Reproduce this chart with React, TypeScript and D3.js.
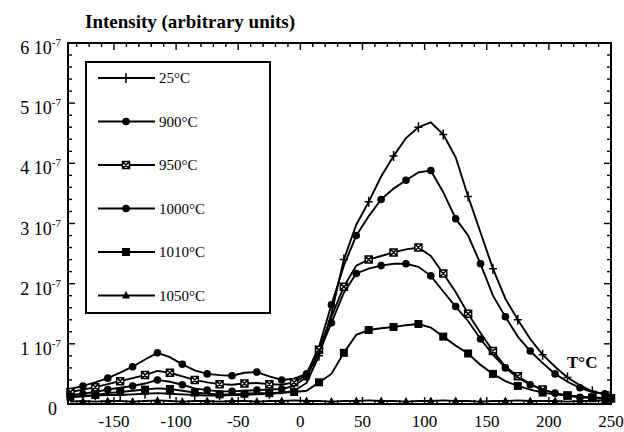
import { useEffect, useRef } from 'react';
import * as d3 from 'd3';

// temperature axis (°C) shared by all series
const temps = [-185, -175, -165, -155, -145, -135, -125, -115, -105, -95, -85, -75, -65, -55, -45, -35, -25, -15, -5,
  5, 15, 25, 35, 45, 55, 65, 75, 85, 95, 105, 115, 125, 135, 145, 155, 165, 175, 185, 195, 205, 215, 225, 235, 245, 250];

// intensities in units of 1e-7
const s25 = [0.12, 0.13, 0.14, 0.15, 0.15, 0.16, 0.17, 0.18, 0.17, 0.16, 0.15, 0.14, 0.14, 0.15, 0.15, 0.16, 0.17, 0.18, 0.22,
  0.35, 0.8, 1.5, 2.4, 2.98, 3.36, 3.78, 4.12, 4.42, 4.6, 4.68, 4.48, 4.1, 3.45, 2.85, 2.25, 1.75, 1.4, 1.08, 0.82, 0.62, 0.44, 0.31, 0.21, 0.16, 0.15];
const s900 = [0.25, 0.3, 0.36, 0.43, 0.52, 0.62, 0.74, 0.85, 0.78, 0.66, 0.56, 0.5, 0.48, 0.47, 0.52, 0.53, 0.46, 0.4, 0.42,
  0.5, 0.95, 1.65, 2.3, 2.8, 3.12, 3.4, 3.58, 3.72, 3.85, 3.88, 3.52, 3.08, 2.8, 2.33, 1.8, 1.45, 1.12, 0.88, 0.68, 0.5, 0.37, 0.27, 0.2, 0.17, 0.16];
const s950 = [0.2, 0.24, 0.28, 0.33, 0.38, 0.43, 0.48, 0.55, 0.52, 0.46, 0.4, 0.36, 0.33, 0.32, 0.34, 0.35, 0.33, 0.32, 0.36,
  0.48, 0.9, 1.45, 1.95, 2.3, 2.4, 2.46, 2.52, 2.57, 2.6, 2.46, 2.17, 1.86, 1.5, 1.18, 0.88, 0.62, 0.46, 0.33, 0.24, 0.18, 0.14, 0.12, 0.1, 0.09, 0.09];
const s1000 = [0.15, 0.17, 0.2, 0.24, 0.27, 0.3, 0.34, 0.4, 0.37, 0.32, 0.26, 0.23, 0.21, 0.21, 0.22, 0.23, 0.24, 0.25, 0.3,
  0.45, 0.85, 1.35, 1.85, 2.17, 2.25, 2.3, 2.33, 2.33, 2.28, 2.13, 1.87, 1.62, 1.38, 1.08, 0.82, 0.6, 0.44, 0.32, 0.24, 0.18, 0.14, 0.11, 0.1, 0.09, 0.09];
const s1010 = [0.12, 0.13, 0.15, 0.18, 0.2, 0.22, 0.24, 0.26, 0.25, 0.22, 0.19, 0.17, 0.16, 0.16, 0.17, 0.18, 0.18, 0.19, 0.2,
  0.22, 0.36, 0.5, 0.85, 1.15, 1.23, 1.26, 1.28, 1.31, 1.33, 1.27, 1.12, 0.97, 0.84, 0.65, 0.5, 0.38, 0.3, 0.24, 0.19, 0.16, 0.14, 0.12, 0.11, 0.1, 0.1];
const s1050 = [0.04, 0.05, 0.04, 0.05, 0.05, 0.04, 0.05, 0.06, 0.05, 0.04, 0.05, 0.05, 0.04, 0.05, 0.05, 0.04, 0.05, 0.05, 0.06,
  0.05, 0.05, 0.04, 0.05, 0.05, 0.06, 0.05, 0.05, 0.04, 0.05, 0.05, 0.06, 0.05, 0.05, 0.04, 0.05, 0.05, 0.06, 0.05, 0.05, 0.05, 0.04, 0.05, 0.05, 0.06, 0.05];

const seriesLabels = ['25°C', '900°C', '950°C', '1000°C', '1010°C', '1050°C'];
const seriesValues = [s25, s900, s950, s1000, s1010, s1050];
const xTicks = [-150, -100, -50, 0, 50, 100, 150, 200, 250];
const yTicks = [0, 1, 2, 3, 4, 5, 6];

const markerKinds = ['plus', 'circle', 'bowtie', 'circle', 'square', 'triangle'];
const FONT = 'Liberation Serif, DejaVu Serif, serif';

function drawMarker(g: any, kind: string, cx: number, cy: number) {
  if (kind === 'circle') {
    g.append('circle').attr('cx', cx).attr('cy', cy).attr('r', 3.8).attr('fill', '#000');
  } else if (kind === 'square') {
    g.append('rect').attr('x', cx - 4).attr('y', cy - 4).attr('width', 8).attr('height', 8).attr('fill', '#000');
  } else if (kind === 'triangle') {
    g.append('path').attr('d', `M${cx},${cy - 4.5}L${cx + 4},${cy + 3}L${cx - 4},${cy + 3}Z`).attr('fill', '#000');
  } else if (kind === 'plus') {
    g.append('path').attr('d', `M${cx},${cy - 5}V${cy + 5}M${cx - 4},${cy}H${cx + 4}`)
      .attr('stroke', '#000').attr('stroke-width', 1.5).attr('fill', 'none');
  } else if (kind === 'bowtie') {
    g.append('path')
      .attr('d', `M${cx - 3.5},${cy - 3.5}H${cx + 3.5}V${cy + 3.5}H${cx - 3.5}ZM${cx - 3.5},${cy - 3.5}L${cx + 3.5},${cy + 3.5}M${cx + 3.5},${cy - 3.5}L${cx - 3.5},${cy + 3.5}`)
      .attr('stroke', '#000').attr('stroke-width', 1.5).attr('fill', '#fff');
  }
}

const App = () => {
  const ref = useRef<SVGSVGElement>(null);

  useEffect(() => {
    const svg = d3.select(ref.current);
    svg.selectAll('*').remove();

    const x = d3.scaleLinear().domain([-187, 250]).range([68, 611]);
    const y = d3.scaleLinear().domain([0, 6]).range([404, 43]);

    // curves
    const line = d3.line<number>()
      .x((_, i) => x(temps[i]))
      .y(d => y(d));

    const plot = svg.append('g');
    seriesValues.forEach((vals, si) => {
      plot.append('path')
        .datum(vals)
        .attr('d', line)
        .attr('fill', 'none')
        .attr('stroke', '#000')
        .attr('stroke-width', 1.9);
      vals.forEach((v, i) => {
        if ((i + si) % 2 === 0) drawMarker(plot, markerKinds[si], x(temps[i]), y(v));
      });
    });

    // frame
    svg.append('rect')
      .attr('x', 68).attr('y', 43).attr('width', 611 - 68).attr('height', 404 - 43)
      .attr('fill', 'none').attr('stroke', '#000').attr('stroke-width', 2);

    // ticks, all pointing inward
    const ticks = svg.append('g').attr('stroke', '#000').attr('stroke-width', 1.4);
    d3.range(-180, 251, 10).forEach(t => {
      const len = t % 50 === 0 ? 7 : 4;
      ticks.append('line').attr('x1', x(t)).attr('x2', x(t)).attr('y1', 404).attr('y2', 404 - len);
      ticks.append('line').attr('x1', x(t)).attr('x2', x(t)).attr('y1', 43).attr('y2', 43 + len);
    });
    d3.range(0, 30.5, 1).forEach(k => {
      const v = k / 5;
      const len = k % 5 === 0 ? 7 : 4;
      ticks.append('line').attr('x1', 68).attr('x2', 68 + len).attr('y1', y(v)).attr('y2', y(v));
      ticks.append('line').attr('x1', 611).attr('x2', 611 - len).attr('y1', y(v)).attr('y2', y(v));
    });

    // x tick labels
    svg.append('g').selectAll('text').data(xTicks).join('text')
      .attr('x', d => x(d))
      .attr('y', 427)
      .attr('text-anchor', 'middle')
      .attr('font-family', FONT)
      .attr('font-size', 17)
      .text(d => String(d));

    // y tick labels
    yTicks.forEach(t => {
      const txt = svg.append('text')
        .attr('x', t === 0 ? 57 : 61)
        .attr('y', y(t) + 11)
        .attr('text-anchor', 'end')
        .attr('font-family', FONT)
        .attr('font-size', 18);
      if (t === 0) {
        txt.text('0');
      } else {
        txt.append('tspan').text(`${t} 10`);
        txt.append('tspan').attr('dy', -8).attr('font-size', 11).text('-7');
      }
    });

    // axis titles
    svg.append('text')
      .attr('x', 85).attr('y', 28)
      .attr('font-family', FONT).attr('font-weight', 'bold').attr('font-size', 19)
      .text('Intensity (arbitrary units)');
    svg.append('text')
      .attr('x', 567).attr('y', 368)
      .attr('font-family', FONT).attr('font-weight', 'bold').attr('font-size', 17)
      .text('T°C');

    // legend
    const legend = svg.append('g');
    legend.append('rect')
      .attr('x', 86).attr('y', 62).attr('width', 270 - 86).attr('height', 313 - 62)
      .attr('fill', '#fff').attr('stroke', '#000').attr('stroke-width', 2);
    seriesLabels.forEach((lab, i) => {
      const ly = 78 + i * 43.5;
      legend.append('line').attr('x1', 98).attr('x2', 155).attr('y1', ly).attr('y2', ly)
        .attr('stroke', '#000').attr('stroke-width', 1.8);
      drawMarker(legend, markerKinds[i], 126, ly);
      legend.append('text')
        .attr('x', 159).attr('y', ly + 5)
        .attr('font-family', FONT).attr('font-size', 15)
        .text(lab);
    });
  }, []);

  return (
    <div style={{ position: 'absolute', left: 0, top: 0 }}>
      <svg ref={ref} width={624} height={432} style={{ display: 'block', background: '#fff' }} />
    </div>
  );
};

export default App;
